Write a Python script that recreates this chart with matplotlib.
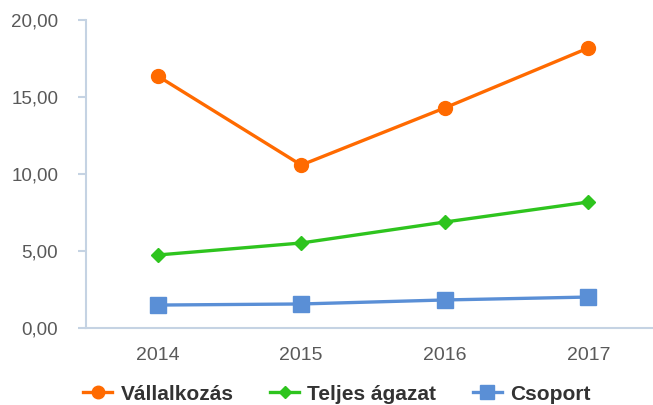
import matplotlib
matplotlib.use("Agg")
import matplotlib.pyplot as plt
from matplotlib.ticker import FuncFormatter

years = ["2014", "2015", "2016", "2017"]
vallalkozas = [16.36, 10.58, 14.29, 18.18]
teljes_agazat = [4.74, 5.52, 6.88, 8.18]
csoport = [1.49, 1.56, 1.82, 2.01]
y_ticks = [0, 5, 10, 15, 20]

plt.rcParams["font.family"] = ["Liberation Sans", "DejaVu Sans"]

W, H = 653, 405
fig = plt.figure(figsize=(W / 100, H / 100), dpi=100)
left, right, top, bottom = 86, 660, 20, 328
ax = fig.add_axes([left / W, 1 - bottom / H, (right - left) / W, (bottom - top) / H])

x = range(len(years))
ax.plot(x, vallalkozas, color="#FF6A00", lw=2.4, marker="o", ms=10, label="Vállalkozás")
ax.plot(x, teljes_agazat, color="#2EC41E", lw=2.4, marker="D", ms=7, label="Teljes ágazat")
ax.plot(x, csoport, color="#5A8FD6", lw=2.4, marker="s", ms=11, label="Csoport")

ax.set_xlim(-0.5, 3.5)
ax.set_ylim(0, 20)
ax.set_xticks(list(x))
ax.set_xticklabels(years)
ax.set_yticks(y_ticks)
ax.yaxis.set_major_formatter(FuncFormatter(lambda v, p: f"{v:.2f}".replace(".", ",")))

axis_col = "#C5D3E3"
for s in ["top", "right"]:
    ax.spines[s].set_visible(False)
ax.spines["left"].set_color(axis_col)
ax.spines["bottom"].set_color(axis_col)
ax.spines["left"].set_linewidth(1.5)
ax.spines["bottom"].set_linewidth(1.5)
ax.tick_params(axis="y", colors=axis_col, length=6, width=1.5, labelcolor="#595959", labelsize=13.5, pad=14)
ax.tick_params(axis="x", length=0, labelcolor="#595959", labelsize=14, pad=14)

leg = fig.legend(loc="center left", bbox_to_anchor=(83 / W, 1 - 394 / H), ncol=3, frameon=False,
                 prop={"weight": "bold", "size": 15}, handlelength=1.4, columnspacing=1.75,
                 handletextpad=0.4, borderpad=0, borderaxespad=0, markerscale=0.9)
for t in leg.get_texts():
    t.set_color("#333333")

fig.savefig("out.png", dpi=100)
